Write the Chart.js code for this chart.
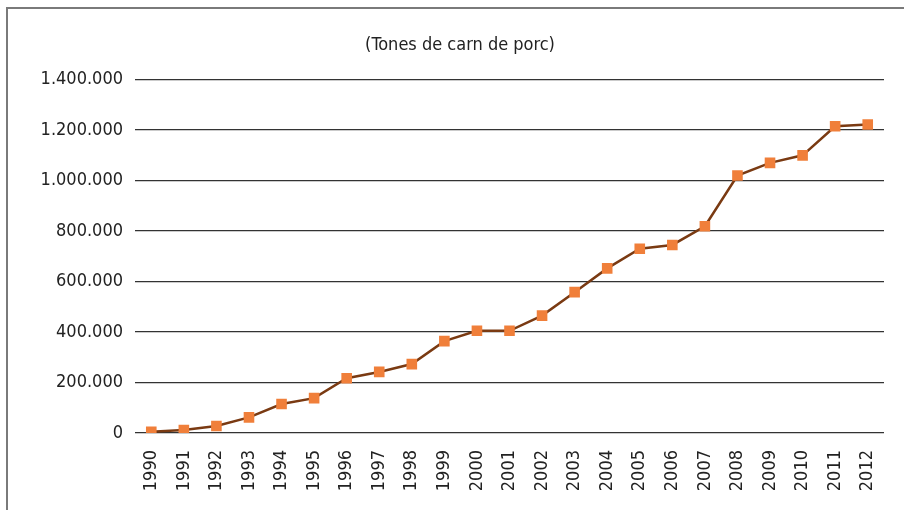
<!DOCTYPE html>
<html>
<head>
<meta charset="utf-8">
<script src="https://cdn.jsdelivr.net/npm/chart.js@4"></script>
<style>
  body { margin: 0; background: #fff; }
  #wrap { position: relative; width: 904px; height: 510px; overflow: hidden; }
  #frame { position: absolute; left: 6px; top: 7px; width: 930px; height: 540px; border: 2px solid #7a7a7a; pointer-events: none; }
</style>
</head>
<body>
<div id="wrap">
  <canvas id="chart" width="904" height="510"></canvas>
  <div id="frame"></div>
</div>
<script>
// years and tonnes of pork
const years = ['1990','1991','1992','1993','1994','1995','1996','1997','1998','1999','2000',
               '2001','2002','2003','2004','2005','2006','2007','2008','2009','2010','2011','2012'];
const tones = [5000, 12000, 28000, 62000, 115000, 138000, 217000, 242000, 273000, 364000, 405000,
               405000, 465000, 558000, 652000, 730000, 745000, 819000, 1020000, 1070000, 1100000, 1215000, 1222000];
const titleText = '(Tones de carn de porc)';

const fontFamily = '"DejaVu Sans Condensed", "Liberation Sans", Arial, sans-serif';
const textColor = '#222';

const formatNum = (v) => String(v).replace(/\B(?=(\d{3})+(?!\d))/g, '.');

const ctx = document.getElementById('chart').getContext('2d');
const chart = new Chart(ctx, {
    type: 'line',
    data: {
        labels: years,
        datasets: [{
            data: tones,
            borderColor: '#7a3a12',
            borderWidth: 2.5,
            pointStyle: 'rect',
            pointRadius: 7.5,
            pointBackgroundColor: '#f07f3a',
            pointBorderColor: '#f07f3a',
            pointBorderWidth: 0,
            tension: 0,
        }],
    },
    options: {
        responsive: false,
        animation: false,
        layout: {
            padding: { left: 36, right: 20, top: 0, bottom: 0 }
        },
        scales: {
            x: {
                offset: true,
                grid: { display: false },
                border: { display: false },
                ticks: {
                    color: textColor,
                    font: { family: fontFamily, size: 18 },
                    minRotation: 90,
                    maxRotation: 90,
                    padding: 9,
                    autoSkip: false,
                },
                afterFit: (scale) => { scale.height = 77; }
            },
            y: {
                min: 0,
                max: 1400000,
                grid: { color: '#333', lineWidth: 1.3, drawTicks: false },
                border: { display: false },
                ticks: {
                    stepSize: 200000,
                    color: textColor,
                    padding: 12,
                    font: { family: fontFamily, size: 18 },
                    callback: (v) => formatNum(v),
                },
                afterFit: (scale) => { scale.width = 99; }
            }
        },
        plugins: {
            legend: { display: false },
            tooltip: { enabled: false },
            title: {
                display: true,
                text: titleText,
                color: textColor,
                font: { family: fontFamily, size: 18, weight: 'normal', lineHeight: 1.2 },
                padding: { top: 35, bottom: 23 }
            }
        }
    }
});
</script>
</body>
</html>
